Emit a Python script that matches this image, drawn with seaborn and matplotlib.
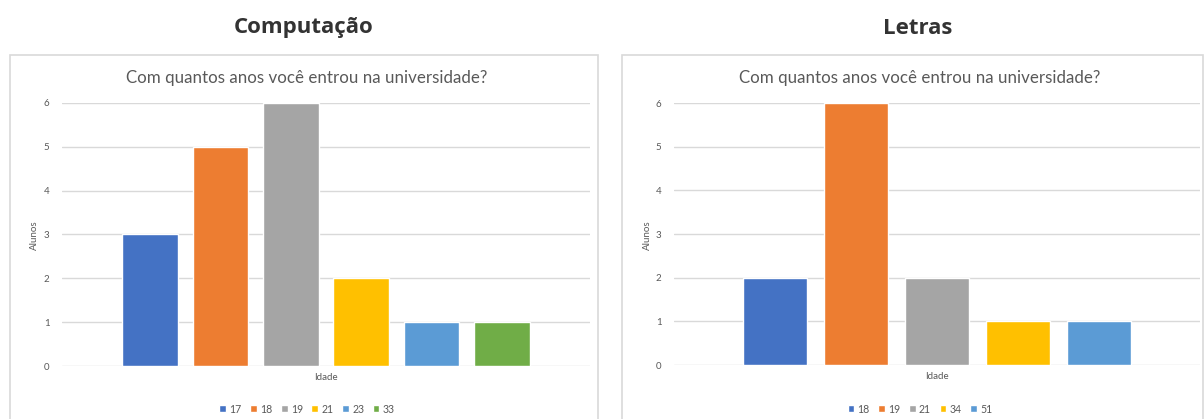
import matplotlib
matplotlib.use("Agg")
import matplotlib.pyplot as plt
import seaborn as sns
import pandas as pd
from matplotlib.patches import Rectangle

# ---- data ----
comp_ages = ["17", "18", "19", "21", "23", "33"]
comp_alunos = [3, 5, 6, 2, 1, 1]
letras_ages = ["18", "19", "21", "34", "51"]
letras_alunos = [2, 6, 2, 1, 1]
panel_headings = ["Computação", "Letras"]
chart_title = "Com quantos anos você entrou na universidade?"
x_label = "Idade"
y_label = "Alunos"
yticks = [0, 1, 2, 3, 4, 5, 6]

excel_colors = ["#4472C4", "#ED7D31", "#A5A5A5", "#FFC000", "#5B9BD5", "#70AD47"]

sns.set_theme(style="white")
plt.rcParams["font.family"] = ["Lato", "DejaVu Sans"]

W, H = 1204, 419
fig = plt.figure(figsize=(W / 100, H / 100), dpi=100)
fig.patch.set_facecolor("white")

def fx(px):
    return px / W

def fy(py):
    return 1 - py / H

# panel boxes
for (x0, x1) in [(10, 598), (622, 1203)]:
    fig.add_artist(Rectangle((fx(x0), fy(430)), fx(x1 - x0), (430 - 55) / H,
                             transform=fig.transFigure, fill=False,
                             edgecolor="#D9D9D9", linewidth=1.2))

panels = [
    dict(ages=comp_ages, vals=comp_alunos, ax_px=(62, 590, 103, 366), width=0.8,
         head_x=304, center_x=307, ylab_x=34),
    dict(ages=letras_ages, vals=letras_alunos, ax_px=(674, 1200, 103, 365), width=0.77,
         head_x=918, center_x=920, ylab_x=647),
]

for p, heading in zip(panels, panel_headings):
    x0, x1, yt, yb = p["ax_px"]
    ax = fig.add_axes([fx(x0), fy(yb), fx(x1 - x0), (yb - yt) / H])
    df = pd.DataFrame({"cat": [""] * len(p["ages"]), "Idade": p["ages"], "Alunos": p["vals"]})
    sns.barplot(data=df, x="cat", y="Alunos", hue="Idade", hue_order=p["ages"],
                palette=excel_colors[:len(p["ages"])], width=p["width"], gap=0.21,
                saturation=1, ax=ax, legend=True)
    ax.set_xlim(-0.5, 0.5)
    ax.set_ylim(0, 6)
    ax.set_yticks(yticks)
    ax.yaxis.grid(True, color="#D9D9D9", linewidth=1)
    ax.set_axisbelow(True)
    for s in ax.spines.values():
        s.set_visible(False)
    ax.set_xticks([])
    ax.tick_params(axis="y", length=0, pad=9, labelsize=7, labelcolor="#595959")
    ax.set_xlabel(x_label, fontsize=7, color="#595959", labelpad=5)
    ax.set_ylabel("")
    fig.text(fx(p["ylab_x"]), fy(235), y_label, rotation=90, fontsize=7,
             color="#595959", ha="center", va="center")
    ax.set_title("")
    fig.text(fx(p["center_x"]), fy(78), chart_title, fontsize=12.2, color="#595959",
             ha="center", va="center")
    fig.text(fx(p["head_x"]), fy(28), heading, fontsize=16, fontweight="bold",
             color="#333333", ha="center", va="center",
             family=["Open Sans", "DejaVu Sans"])
    handles, labels = ax.get_legend_handles_labels()
    ax.get_legend().remove()
    fig.legend(handles, labels, loc="center", bbox_to_anchor=(fx(p["center_x"]), fy(409)),
               ncol=len(labels), frameon=False, fontsize=7.6, handlelength=0.65,
               handleheight=0.65, handletextpad=0.3, columnspacing=0.8,
               labelcolor="#595959", borderpad=0)

fig.savefig("out.png", dpi=100, facecolor="white")
